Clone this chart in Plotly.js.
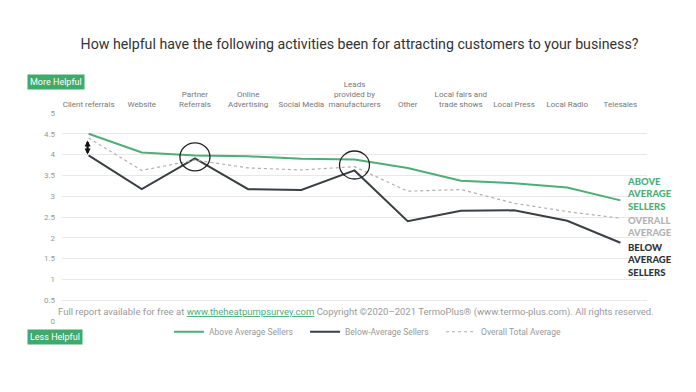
<!DOCTYPE html>
<html>
<head>
<meta charset="utf-8">
<script src="https://cdn.plot.ly/plotly-3.0.1.min.js"></script>
<style>html,body{margin:0;padding:0;background:#fff;}#chart{width:696px;height:392px;}</style>
</head>
<body>
<div id="chart"></div>
<script>
const categories = ["Client referrals", "Website", "Partner<br>Referrals", "Online<br>Advertising", "Social Media",
  "Leads<br>provided by<br>manufacturers", "Other", "Local fairs and<br>trade shows", "Local Press", "Local Radio", "Telesales"];
const aboveAvg = [4.50, 4.05, 3.98, 3.96, 3.90, 3.88, 3.68, 3.37, 3.31, 3.21, 2.90];
const belowAvg = [3.98, 3.17, 3.91, 3.17, 3.15, 3.62, 2.40, 2.65, 2.66, 2.41, 1.88];
const overallAvg = [4.40, 3.62, 3.87, 3.68, 3.63, 3.71, 3.12, 3.16, 2.83, 2.63, 2.47];
const yTicks = [0, 0.5, 1, 1.5, 2, 2.5, 3, 3.5, 4, 4.5, 5];
const yTickText = ["0", "0.5", "1", "1.5", "2", "2.5", "3", "3.5", "4", "4.5", "5"];

const GREEN = "#4dae78";
const DARK = "#3a3f45";
const GREY = "#b0b0b0";
const FONT = "Roboto, 'Open Sans', sans-serif";

const xs = categories.map((c, i) => i);
const traces = [
  {x: xs, y: aboveAvg, type: "scatter", mode: "lines", name: "Above Average Sellers",
   line: {color: GREEN, width: 2}},
  {x: xs, y: belowAvg, type: "scatter", mode: "lines", name: "Below-Average Sellers",
   line: {color: DARK, width: 2}},
  {x: xs, y: overallAvg, type: "scatter", mode: "lines", name: "Overall Total Average",
   line: {color: GREY, width: 1.2, dash: "dot"}}
];

function circleAt(i) {
  const yc = (aboveAvg[i] + belowAvg[i]) / 2;
  return {type: "circle", xref: "x", yref: "y", xsizemode: "pixel", ysizemode: "pixel",
    xanchor: i, yanchor: yc, x0: -15, x1: 15, y0: -14, y1: 14,
    line: {color: "#222", width: 1.3}, fillcolor: "rgba(0,0,0,0)"};
}

const layout = {
  width: 696, height: 392,
  margin: {l: 62, r: 49, t: 113, b: 71},
  paper_bgcolor: "#fff", plot_bgcolor: "#fff",
  font: {family: FONT, color: "#777"},
  title: {text: "How helpful have the following activities been for attracting customers to your business?",
    font: {family: FONT, size: 14.2, color: "#333"}, x: 0.5165, xanchor: "center", y: 0.888, yanchor: "middle", xref: "container", yref: "container"},
  xaxis: {side: "top", range: [-0.5, 10.5], tickvals: xs, ticktext: categories, showgrid: false, zeroline: false,
    showline: false, ticks: "", tickfont: {size: 8, color: "#777", family: FONT}, ticklabelstandoff: 3, fixedrange: true},
  yaxis: {range: [0, 5], tickvals: yTicks, ticktext: yTickText, showgrid: true, gridcolor: "#e8e8e8", gridwidth: 1,
    zeroline: false, showline: false, ticks: "", tickfont: {size: 8, color: "#999", family: FONT}, ticklabelstandoff: 6, fixedrange: true},
  showlegend: true,
  legend: {orientation: "h", x: 0.183, xanchor: "left", y: 0.018, yanchor: "top", font: {size: 8.5, color: "#999", family: FONT},
    entrywidth: 91, entrywidthmode: "pixels", traceorder: "normal", itemwidth: 30},
  shapes: [circleAt(2), circleAt(5)],
  annotations: [
    {x: 0, y: belowAvg[0], xref: "x", yref: "y", ax: 0, ay: overallAvg[0], axref: "x", ayref: "y",
     showarrow: true, arrowhead: 2, arrowside: "end+start", arrowsize: 0.55, arrowwidth: 2.2, arrowcolor: "#111",
     standoff: 1, startstandoff: 1, text: "", xshift: -1},
    {x: 0.962, y: (321 - 194) / 208, xref: "paper", yref: "paper", xanchor: "left", yanchor: "middle", align: "left",
     showarrow: false, text: "ABOVE<br>AVERAGE<br>SELLERS", font: {family: "Lato, sans-serif", size: 9.5, color: GREEN, weight: 900}},
    {x: 0.962, y: (321 - 226) / 208, xref: "paper", yref: "paper", xanchor: "left", yanchor: "middle", align: "left",
     showarrow: false, text: "OVERALL<br>AVERAGE", font: {family: "Lato, sans-serif", size: 9.5, color: "#b3b3b3", weight: 900}},
    {x: 0.962, y: (321 - 259.5) / 208, xref: "paper", yref: "paper", xanchor: "left", yanchor: "middle", align: "left",
     showarrow: false, text: "BELOW<br>AVERAGE<br>SELLERS", font: {family: "Lato, sans-serif", size: 9.5, color: "#2e343b", weight: 900}},
    {x: -0.011, y: 1.147, xref: "paper", yref: "paper", xanchor: "center", yanchor: "middle", showarrow: false,
     text: "More Helpful", bgcolor: "#3faa6c", borderpad: 2, font: {family: FONT, size: 9, color: "#fff"}},
    {x: -0.012, y: -0.079, xref: "paper", yref: "paper", xanchor: "center", yanchor: "middle", showarrow: false,
     text: "Less Helpful", bgcolor: "#3faa6c", borderpad: 2, font: {family: FONT, size: 9, color: "#fff"}},
    {x: 0.502, y: 0.043, xref: "paper", yref: "paper", xanchor: "center", yanchor: "middle", showarrow: false,
     text: "Full report available for free at <span style='color:#4dae78'><u>www.theheatpumpsurvey.com</u></span> Copyright ©2020–2021 TermoPlus® (www.termo-plus.com). All rights reserved.",
     font: {family: FONT, size: 9.5, color: "#999"}}
  ]
};

Plotly.newPlot("chart", traces, layout, {displayModeBar: false, staticPlot: true});
</script>
</body>
</html>
